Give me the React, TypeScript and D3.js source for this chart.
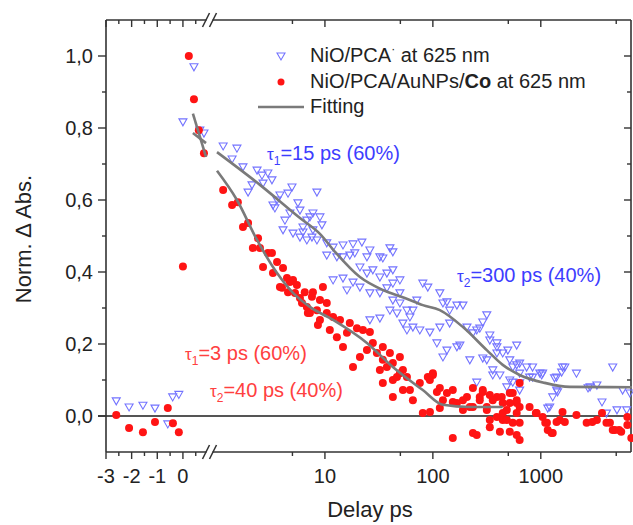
import React from "react";
import * as d3 from "d3";

type Pt = [number, number];

// delay (ps), normalised dAbs
const pcaEarly: Pt[] = [
  [-2.6, 0.042], [-2.1, 0.025], [-1.56, 0.03], [-1.09, 0.022], [-0.59, -0.022],
  [-0.4, 0.053], [-0.16, 0.06], [0, 0.817], [0.43, 0.97], [0.66, 0.794], [0.82, 0.786],
];

const pcaLate: Pt[] = [
  [1.14, 0.75], [1.53, 0.744], [1.38, 0.714], [1.74, 0.692], [2.35, 0.683], [2.61, 0.669],
  [2.96, 0.675], [2.11, 0.642], [2.67, 0.647], [3.23, 0.656], [1.94, 0.622], [3.83, 0.614],
  [4.95, 0.636], [4.55, 0.619], [5.62, 0.592], [3.3, 0.586], [3.6, 0.6], [3.44, 0.578],
  [4.26, 0.544], [4.74, 0.564], [4.09, 0.517], [5.06, 0.508], [5.87, 0.497], [6.26, 0.525],
  [7.26, 0.553], [8.43, 0.622], [7.74, 0.517], [6.8, 0.489], [8.43, 0.489], [5.87, 0.572],
  [7.74, 0.564], [8.99, 0.553], [6.8, 0.544], [9.38, 0.531], [6.26, 0.511], [7.58, 0.497],
  [10.4, 0.481], [11.9, 0.469], [14.7, 0.475], [18.2, 0.478], [22.0, 0.483], [26.1, 0.461],
  [40.0, 0.467], [10.4, 0.447], [14.7, 0.442], [18.9, 0.453], [24.5, 0.442], [32.3, 0.442],
  [12.9, 0.442], [17.0, 0.447], [34.4, 0.439], [42.6, 0.456], [11.9, 0.378], [14.7, 0.383],
  [18.2, 0.372], [16.0, 0.35], [21.1, 0.358], [24.5, 0.397], [27.8, 0.406], [32.3, 0.386],
  [37.5, 0.397], [42.6, 0.406], [26.1, 0.342], [32.3, 0.342], [37.5, 0.356], [42.6, 0.369],
  [49.5, 0.378], [49.5, 0.342], [42.6, 0.322], [49.5, 0.314], [40.0, 0.294], [46.5, 0.286],
  [57.5, 0.294], [61.3, 0.275], [52.8, 0.258], [65.3, 0.247], [75.7, 0.239], [57.5, 0.239],
  [26.1, 0.267], [32.3, 0.272], [65.3, 0.294], [71.0, 0.322], [21.1, 0.414], [80.7, 0.369],
  [89.8, 0.358], [116, 0.342], [135, 0.317], [167, 0.308], [143, 0.294], [207, 0.247],
  [272, 0.244], [316, 0.281], [290, 0.261], [109, 0.203], [135, 0.183], [167, 0.192],
  [124, 0.164], [235, 0.231], [93.8, 0.233], [220, 0.156], [316, 0.156], [359, 0.128],
  [444, 0.175], [516, 0.156], [598, 0.142], [495, 0.183], [418, 0.114], [550, 0.094],
  [484, 0.081], [637, 0.119], [839, 0.136], [1040, 0.119], [1400, 0.108], [1590, 0.136],
  [2140, 0.119], [4640, 0.136], [2860, 0.081], [3310, 0.086], [1290, 0.053], [1210, 0.025],
  [1400, 0.072], [5730, 0.072], [6690, 0.064], [5080, 0.017], [4060, 0.008], [839, 0.108],
  [392, 0.203], [124, 0.314], [190, 0.308], [116, 0.247], [143, 0.258], [255, 0.239],
  [337, 0.225], [178, 0.197], [337, 0.211], [392, 0.192], [598, 0.197], [290, 0.161],
  [392, 0.175], [550, 0.136], [637, 0.147], [739, 0.136], [359, 0.114], [516, 0.1],
  [637, 0.092], [255, 0.094], [787, 0.108], [979, 0.119], [637, 0.072], [1020, 0.114],
  [1670, 0.136], [1560, 0.122], [1340, 0.106], [1430, 0.067], [1160, 0.022], [2740, 0.078],
  [3690, 0.039], [6250, 0.017],
];

const auEarly: Pt[] = [
  [-2.6, 0.003], [-2.1, -0.033], [-1.56, -0.045], [-1.09, -0.017], [-0.59, 0.022],
  [-0.39, -0.02], [-0.16, -0.045], [0, 0.415], [0.23, 1.0], [0.43, 0.88], [0.62, 0.794], [0.82, 0.73],
];

const auLate: Pt[] = [
  [1.14, 0.628], [1.38, 0.586], [1.56, 0.594], [1.74, 0.525], [1.94, 0.536], [2.15, 0.467],
  [2.4, 0.494], [2.5, 0.467], [2.67, 0.414], [2.96, 0.453], [3.23, 0.453], [3.6, 0.428],
  [3.3, 0.397], [4.09, 0.411], [4.0, 0.356], [4.45, 0.383], [4.74, 0.372], [5.06, 0.378],
  [5.5, 0.364], [4.55, 0.344], [5.28, 0.342], [5.87, 0.328], [6.5, 0.344], [6.13, 0.314],
  [6.95, 0.286], [6.8, 0.303], [3.83, 0.358], [7.58, 0.331], [8.43, 0.294], [7.26, 0.286],
  [8.61, 0.253], [7.74, 0.344], [9.58, 0.358], [8.99, 0.322], [10.4, 0.314], [10.4, 0.286],
  [8.99, 0.267], [11.9, 0.275], [13.8, 0.267], [11.1, 0.239], [12.9, 0.219], [16.0, 0.231],
  [17.0, 0.258], [19.8, 0.244], [22.5, 0.239], [26.1, 0.233], [14.7, 0.192], [18.2, 0.136],
  [21.1, 0.164], [24.5, 0.183], [27.8, 0.203], [30.3, 0.175], [34.4, 0.192], [34.4, 0.156],
  [40.0, 0.175], [32.3, 0.128], [37.5, 0.136], [42.6, 0.147], [49.5, 0.164], [34.4, 0.092],
  [42.6, 0.1], [49.5, 0.119], [57.5, 0.108], [61.3, 0.072], [42.6, 0.053], [65.3, 0.044],
  [52.8, 0.072], [75.7, 0.092], [80.7, 0.008], [46.5, 0.108], [52.8, 0.128], [89.8, 0.108],
  [100, 0.119], [116, 0.078], [135, 0.064], [153, 0.072], [167, 0.036], [207, 0.053],
  [235, 0.078], [235, 0.025], [272, 0.053], [290, 0.072], [316, 0.025], [337, -0.011],
  [392, 0.053], [444, 0.036], [484, 0.017], [444, -0.011], [598, 0.036], [637, 0.092],
  [550, 0.064], [637, -0.019], [516, -0.044], [637, -0.067], [418, -0.044], [235, -0.047],
  [153, -0.061], [787, 0.025], [915, 0.008], [1140, -0.019], [1290, -0.047], [1500, -0.011],
  [1590, 0.011], [2140, 0.003], [2660, -0.019], [3000, -0.017], [3690, 0.008], [4370, -0.019],
  [4850, -0.039], [5560, -0.044], [6900, -0.061], [100, 0.114], [93.8, 0.1], [109, 0.067],
  [124, 0.044], [153, 0.039], [190, 0.044], [290, 0.067], [272, 0.044], [337, 0.058],
  [359, 0.044], [435, 0.053], [516, 0.064], [516, 0.036], [598, 0.044], [637, 0.025],
  [598, 0.008], [444, 0.008], [392, -0.003], [484, -0.011], [550, -0.019], [337, -0.031],
  [598, -0.053], [255, -0.053], [900, 0.008], [1040, -0.003], [220, 0.025], [316, 0.017],
  [190, 0.017], [116, 0.022], [94, 0.011], [1100, -0.019], [1160, -0.039], [1260, -0.047],
  [1400, -0.017], [1670, -0.017], [3310, -0.011], [4060, -0.019], [4640, -0.039],
  [5320, -0.039], [6340, -0.025], [6340, -0.003],
];

// fitted curves
const pcaFitEarly: Pt[] = [[0.39, 0.786], [0.9, 0.758]];
const auFitEarly: Pt[] = [[0.39, 0.84], [0.9, 0.72]];
const pcaFitLate: Pt[] = [
  [1, 0.733], [2.5, 0.642], [5.87, 0.55], [8.99, 0.506], [12.4, 0.456], [21.1, 0.386],
  [34.4, 0.35], [55, 0.328], [80.7, 0.308], [116, 0.294], [190, 0.247], [316, 0.183],
  [444, 0.142], [637, 0.114], [1088, 0.092], [1860, 0.081], [7000, 0.08],
];
const auFitLate: Pt[] = [
  [1, 0.681], [1.53, 0.6], [2.35, 0.489], [3.6, 0.397], [5.06, 0.342], [7.26, 0.303],
  [11.9, 0.267], [24.5, 0.203], [42.6, 0.136], [80.7, 0.072], [124, 0.031], [220, 0.025],
  [444, 0.025],
];

const yMajor = [0, 0.2, 0.4, 0.6, 0.8, 1.0];
const yMinor = [0.1, 0.3, 0.5, 0.7, 0.9];
const linMajor = [-3, -2, -1, 0];
const linMinor = [-2.5, -1.5, -0.5, 0.5];
const logMajor = [10, 100, 1000];
const logMinor = [5, 50, 500, 5000];

const W = 633;
const H = 525;
const left = 106;
const right = 631;
const top = 20;
const bottom = 452;
const font = "'Liberation Sans', Arial, sans-serif";
const axisColor = "#333";
const fitColor = "#7a7a7a";
const blue = "#3d3dff";
const blueMarker = "#7373ff";
const red = "#ff1414";
const redText = "#ff4040";

const y = d3.scaleLinear().domain([-0.1, 1.1]).range([bottom, top]);
const xLin = d3.scaleLinear().domain([-3, 0.9]).range([left, 206]);
const xLog = d3.scaleLog().domain([1, 7000]).range([217, right + 1]);
const xOf = (t: number) => (t < 1 ? xLin(t) : xLog(t));

const line = d3
  .line<Pt>()
  .x((d) => xOf(d[0]))
  .y((d) => y(d[1]))
  .curve(d3.curveMonotoneX);

const tri = "M-4,-3L4,-3L0,4Z";
const yFmt = (v: number) => d3.format(".1f")(v).replace(".", ",");

function Tau({ x, yy, idx, rest, color }: { x: number; yy: number; idx: string; rest: string; color: string }) {
  return (
    <text x={x} y={yy} fill={color} fontSize={20} fontFamily={font}>
      <tspan fontSize={17}>τ</tspan>
      <tspan fontSize={12} dy={5}>{idx}</tspan>
      <tspan dy={-5}>{rest}</tspan>
    </text>
  );
}

export default function App() {
  const bx = (xLin.range()[1] + xLog.range()[0]) / 2;
  const xTicks = [
    ...linMajor.map((t) => ({ x: xLin(t), major: true, label: String(t) })),
    ...linMinor.map((t) => ({ x: xLin(t), major: false, label: "" })),
    ...logMajor.map((t) => ({ x: xLog(t), major: true, label: String(t) })),
    ...logMinor.map((t) => ({ x: xLog(t), major: false, label: "" })),
  ];
  const slashes = (yc: number) => (
    <g stroke={axisColor} strokeWidth={1.6}>
      <line x1={bx - 9} y1={yc + 7} x2={bx - 2} y2={yc - 7} />
      <line x1={bx - 2} y1={yc + 7} x2={bx + 5} y2={yc - 7} />
    </g>
  );

  return (
    <svg
      width={W}
      height={H}
      style={{ position: "absolute", left: 0, top: 0, background: "#fff" }}
    >
      {/* zero line */}
      <line x1={left - 8} x2={right} y1={y(0)} y2={y(0)} stroke="#555" strokeWidth={1.8} />

      {/* frame */}
      <g stroke={axisColor} strokeWidth={1.6} fill="none">
        <line x1={left} x2={left} y1={top} y2={bottom} />
        <line x1={right} x2={right} y1={top} y2={bottom} />
        <line x1={left} x2={bx - 5} y1={bottom} y2={bottom} />
        <line x1={bx + 1} x2={right} y1={bottom} y2={bottom} />
        <line x1={left} x2={bx - 5} y1={top} y2={top} />
        <line x1={bx + 1} x2={right} y1={top} y2={top} />
      </g>
      {slashes(bottom)}
      {slashes(top)}

      {/* y ticks */}
      <g stroke={axisColor} strokeWidth={1.4}>
        {yMajor.map((v) => (
          <g key={"ym" + v}>
            <line x1={left - 8} x2={left} y1={y(v)} y2={y(v)} />
            <line x1={right - 7} x2={right} y1={y(v)} y2={y(v)} />
          </g>
        ))}
        {yMinor.map((v) => (
          <g key={"yn" + v}>
            <line x1={left - 4} x2={left} y1={y(v)} y2={y(v)} />
            <line x1={right - 4} x2={right} y1={y(v)} y2={y(v)} />
          </g>
        ))}
      </g>
      {yMajor.map((v) => (
        <text
          key={"yl" + v}
          x={left - 13}
          y={y(v) + 7}
          textAnchor="end"
          fontSize={20}
          fontFamily={font}
          fill="#222"
        >
          {yFmt(v)}
        </text>
      ))}

      {/* x ticks */}
      <g stroke={axisColor} strokeWidth={1.4}>
        {xTicks.map((t, i) => (
          <g key={"xt" + i}>
            <line x1={t.x} x2={t.x} y1={bottom} y2={bottom + (t.major ? 7 : 4)} />
            <line x1={t.x} x2={t.x} y1={top} y2={top + (t.major ? 7 : 4)} />
          </g>
        ))}
      </g>
      {xTicks
        .filter((t) => t.label)
        .map((t, i) => (
          <text
            key={"xl" + i}
            x={t.x}
            y={483}
            textAnchor="middle"
            fontSize={20}
            fontFamily={font}
            fill="#222"
          >
            {t.label}
          </text>
        ))}

      {/* axis titles */}
      <text x={370} y={517} textAnchor="middle" fontSize={22} fontFamily={font} fill="#222">
        Delay ps
      </text>
      <text
        transform={`translate(31,239) rotate(-90)`}
        textAnchor="middle"
        fontSize={22}
        fontFamily={font}
        fill="#222"
      >
        Norm. ∆ Abs.
      </text>

      {/* data */}
      <g fill="none" stroke={blueMarker} strokeWidth={1.1}>
        {[...pcaEarly, ...pcaLate].map((d, i) => (
          <path key={"b" + i} d={tri} transform={`translate(${xOf(d[0])},${y(d[1])})`} />
        ))}
      </g>
      <g fill={red}>
        {[...auEarly, ...auLate].map((d, i) => (
          <circle key={"r" + i} cx={xOf(d[0])} cy={y(d[1])} r={4} />
        ))}
      </g>

      {/* fits */}
      <g fill="none" stroke={fitColor} strokeWidth={2.6}>
        <path d={line(pcaFitEarly) ?? ""} />
        <path d={line(auFitEarly) ?? ""} />
        <path d={line(pcaFitLate) ?? ""} />
        <path d={line(auFitLate) ?? ""} />
      </g>

      {/* legend */}
      <g fontFamily={font} fontSize={20} fill="#222">
        <path d={tri} transform="translate(281,56)" fill="none" stroke={blueMarker} strokeWidth={1.1} />
        <text x={310} y={62}>
          NiO/PCA<tspan fontSize={12} dy={-9}>·</tspan>
          <tspan dy={9}> at 625 nm</tspan>
        </text>
        <circle cx={281} cy={82} r={3.5} fill={red} />
        <text x={310} y={88}>
          NiO/PCA/AuNPs/<tspan fontWeight="bold">Co</tspan> at 625 nm
        </text>
        <line x1={258} x2={304} y1={107} y2={107} stroke={fitColor} strokeWidth={2.6} />
        <text x={310} y={113}>Fitting</text>
      </g>

      {/* annotations */}
      <Tau x={267} yy={160} idx="1" rest="=15 ps (60%)" color={blue} />
      <Tau x={457} yy={282} idx="2" rest="=300 ps (40%)" color={blue} />
      <Tau x={185} yy={360} idx="1" rest="=3 ps (60%)" color={redText} />
      <Tau x={210} yy={397} idx="2" rest="=40 ps (40%)" color={redText} />
    </svg>
  );
}
